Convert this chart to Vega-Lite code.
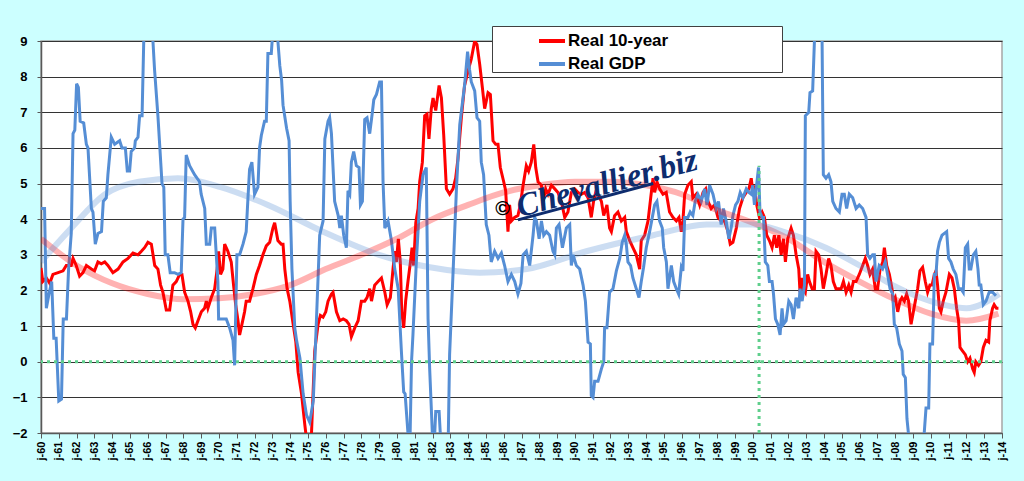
{
  "$schema": "https://vega.github.io/schema/vega-lite/v6.json",
  "width": 961,
  "height": 392,
  "autosize": "none",
  "padding": {"left": 41, "top": 41, "right": 22, "bottom": 48},
  "background": "#CCFFFF",
  "view": {"fill": "#ffffff", "stroke": "#A6A6A6", "strokeWidth": 1.5},
  "config": {
    "axis": {
      "labelFont": "Liberation Sans",
      "labelFontWeight": "bold",
      "labelColor": "#000000",
      "labelOverlap": false,
      "domainColor": "#595959",
      "domainWidth": 1.5,
      "tickColor": "#595959",
      "tickSize": 5
    },
    "axisX": {"tickCount": 54, "labelAngle": -90, "labelFontSize": 11, "labelPadding": 3, "grid": false},
    "axisY": {"tickCount": 11, "labelFontSize": 13, "labelPadding": 10, "tickSize": 4, "grid": true, "gridColor": "#333333", "gridWidth": 1, "gridOpacity": 1}
  },
  "datasets": {
    "main": [
      {"series":"Real 10-year","year":1960.0,"value":2.63},{"series":"Real 10-year","year":1960.1,"value":2.25},{"series":"Real 10-year","year":1960.3,"value":2.35},{"series":"Real 10-year","year":1960.49,"value":2.2},{"series":"Real 10-year","year":1960.67,"value":2.45},{"series":"Real 10-year","year":1960.96,"value":2.5},{"series":"Real 10-year","year":1961.24,"value":2.55},{"series":"Real 10-year","year":1961.42,"value":2.7},{"series":"Real 10-year","year":1961.7,"value":2.7},{"series":"Real 10-year","year":1961.8,"value":2.9},{"series":"Real 10-year","year":1961.98,"value":2.7},{"series":"Real 10-year","year":1962.17,"value":2.4},{"series":"Real 10-year","year":1962.36,"value":2.5},{"series":"Real 10-year","year":1962.55,"value":2.7},{"series":"Real 10-year","year":1962.83,"value":2.6},{"series":"Real 10-year","year":1963.01,"value":2.55},{"series":"Real 10-year","year":1963.2,"value":2.8},{"series":"Real 10-year","year":1963.39,"value":2.75},{"series":"Real 10-year","year":1963.58,"value":2.8},{"series":"Real 10-year","year":1963.76,"value":2.7},{"series":"Real 10-year","year":1964.04,"value":2.5},{"series":"Real 10-year","year":1964.33,"value":2.6},{"series":"Real 10-year","year":1964.61,"value":2.8},{"series":"Real 10-year","year":1964.89,"value":2.9},{"series":"Real 10-year","year":1965.17,"value":3.05},{"series":"Real 10-year","year":1965.45,"value":3.0},{"series":"Real 10-year","year":1965.64,"value":3.1},{"series":"Real 10-year","year":1965.82,"value":3.2},{"series":"Real 10-year","year":1966.01,"value":3.35},{"series":"Real 10-year","year":1966.2,"value":3.3},{"series":"Real 10-year","year":1966.39,"value":2.7},{"series":"Real 10-year","year":1966.57,"value":2.6},{"series":"Real 10-year","year":1966.72,"value":2.15},{"series":"Real 10-year","year":1966.85,"value":1.95},{"series":"Real 10-year","year":1967.04,"value":1.45},{"series":"Real 10-year","year":1967.23,"value":1.45},{"series":"Real 10-year","year":1967.41,"value":2.15},{"series":"Real 10-year","year":1967.6,"value":2.25},{"series":"Real 10-year","year":1967.79,"value":2.45},{"series":"Real 10-year","year":1967.92,"value":2.45},{"series":"Real 10-year","year":1968.07,"value":1.95},{"series":"Real 10-year","year":1968.26,"value":1.7},{"series":"Real 10-year","year":1968.41,"value":1.4},{"series":"Real 10-year","year":1968.54,"value":1.05},{"series":"Real 10-year","year":1968.67,"value":0.95},{"series":"Real 10-year","year":1968.82,"value":1.15},{"series":"Real 10-year","year":1969.01,"value":1.4},{"series":"Real 10-year","year":1969.19,"value":1.5},{"series":"Real 10-year","year":1969.29,"value":1.7},{"series":"Real 10-year","year":1969.38,"value":1.5},{"series":"Real 10-year","year":1969.57,"value":1.8},{"series":"Real 10-year","year":1969.76,"value":2.05},{"series":"Real 10-year","year":1969.91,"value":2.65},{"series":"Real 10-year","year":1969.98,"value":3.1},{"series":"Real 10-year","year":1970.09,"value":2.45},{"series":"Real 10-year","year":1970.22,"value":2.6},{"series":"Real 10-year","year":1970.32,"value":3.3},{"series":"Real 10-year","year":1970.5,"value":3.1},{"series":"Real 10-year","year":1970.69,"value":2.8},{"series":"Real 10-year","year":1970.82,"value":2.15},{"series":"Real 10-year","year":1970.94,"value":1.6},{"series":"Real 10-year","year":1971.07,"value":1.15},{"series":"Real 10-year","year":1971.16,"value":0.75},{"series":"Real 10-year","year":1971.29,"value":1.05},{"series":"Real 10-year","year":1971.44,"value":1.4},{"series":"Real 10-year","year":1971.53,"value":1.7},{"series":"Real 10-year","year":1971.72,"value":1.7},{"series":"Real 10-year","year":1971.91,"value":2.05},{"series":"Real 10-year","year":1972.1,"value":2.45},{"series":"Real 10-year","year":1972.28,"value":2.7},{"series":"Real 10-year","year":1972.47,"value":3.0},{"series":"Real 10-year","year":1972.66,"value":3.25},{"series":"Real 10-year","year":1972.85,"value":3.35},{"series":"Real 10-year","year":1972.94,"value":3.55},{"series":"Real 10-year","year":1973.03,"value":3.75},{"series":"Real 10-year","year":1973.13,"value":3.9},{"series":"Real 10-year","year":1973.31,"value":3.4},{"series":"Real 10-year","year":1973.5,"value":3.3},{"series":"Real 10-year","year":1973.6,"value":3.3},{"series":"Real 10-year","year":1973.7,"value":2.6},{"series":"Real 10-year","year":1973.83,"value":2.05},{"series":"Real 10-year","year":1973.98,"value":1.7},{"series":"Real 10-year","year":1974.17,"value":1.05},{"series":"Real 10-year","year":1974.32,"value":0.55},{"series":"Real 10-year","year":1974.45,"value":-0.3},{"series":"Real 10-year","year":1974.64,"value":-0.9},{"series":"Real 10-year","year":1974.82,"value":-1.75},{"series":"Real 10-year","year":1974.95,"value":-2.3},{"series":"Real 10-year","year":1975.1,"value":-2.3},{"series":"Real 10-year","year":1975.2,"value":-2.0},{"series":"Real 10-year","year":1975.38,"value":0.3},{"series":"Real 10-year","year":1975.57,"value":1.05},{"series":"Real 10-year","year":1975.7,"value":1.3},{"series":"Real 10-year","year":1975.85,"value":1.25},{"series":"Real 10-year","year":1976.0,"value":1.4},{"series":"Real 10-year","year":1976.13,"value":1.7},{"series":"Real 10-year","year":1976.32,"value":1.9},{"series":"Real 10-year","year":1976.41,"value":1.95},{"series":"Real 10-year","year":1976.6,"value":1.4},{"series":"Real 10-year","year":1976.79,"value":1.15},{"series":"Real 10-year","year":1976.98,"value":1.2},{"series":"Real 10-year","year":1977.16,"value":1.15},{"series":"Real 10-year","year":1977.31,"value":1.05},{"series":"Real 10-year","year":1977.44,"value":0.7},{"series":"Real 10-year","year":1977.63,"value":0.95},{"series":"Real 10-year","year":1977.82,"value":1.15},{"series":"Real 10-year","year":1978.0,"value":1.7},{"series":"Real 10-year","year":1978.19,"value":1.7},{"series":"Real 10-year","year":1978.32,"value":1.8},{"series":"Real 10-year","year":1978.47,"value":2.05},{"series":"Real 10-year","year":1978.57,"value":1.7},{"series":"Real 10-year","year":1978.75,"value":2.15},{"series":"Real 10-year","year":1978.94,"value":2.25},{"series":"Real 10-year","year":1979.13,"value":2.35},{"series":"Real 10-year","year":1979.32,"value":1.95},{"series":"Real 10-year","year":1979.45,"value":1.6},{"series":"Real 10-year","year":1979.63,"value":1.8},{"series":"Real 10-year","year":1979.78,"value":2.6},{"series":"Real 10-year","year":1979.88,"value":3.1},{"series":"Real 10-year","year":1979.97,"value":2.8},{"series":"Real 10-year","year":1980.08,"value":3.45},{"series":"Real 10-year","year":1980.19,"value":2.8},{"series":"Real 10-year","year":1980.27,"value":1.4},{"series":"Real 10-year","year":1980.38,"value":0.95},{"series":"Real 10-year","year":1980.49,"value":1.7},{"series":"Real 10-year","year":1980.62,"value":2.25},{"series":"Real 10-year","year":1980.76,"value":2.8},{"series":"Real 10-year","year":1980.85,"value":3.2},{"series":"Real 10-year","year":1980.94,"value":2.7},{"series":"Real 10-year","year":1981.06,"value":3.9},{"series":"Real 10-year","year":1981.19,"value":4.3},{"series":"Real 10-year","year":1981.28,"value":5.05},{"series":"Real 10-year","year":1981.43,"value":5.6},{"series":"Real 10-year","year":1981.56,"value":6.9},{"series":"Real 10-year","year":1981.69,"value":6.95},{"series":"Real 10-year","year":1981.8,"value":6.25},{"series":"Real 10-year","year":1981.93,"value":7.1},{"series":"Real 10-year","year":1982.03,"value":7.4},{"series":"Real 10-year","year":1982.18,"value":7.05},{"series":"Real 10-year","year":1982.37,"value":7.75},{"series":"Real 10-year","year":1982.5,"value":7.4},{"series":"Real 10-year","year":1982.63,"value":6.35},{"series":"Real 10-year","year":1982.78,"value":4.85},{"series":"Real 10-year","year":1982.96,"value":4.7},{"series":"Real 10-year","year":1983.15,"value":4.85},{"series":"Real 10-year","year":1983.3,"value":5.15},{"series":"Real 10-year","year":1983.43,"value":5.7},{"series":"Real 10-year","year":1983.62,"value":6.85},{"series":"Real 10-year","year":1983.8,"value":7.75},{"series":"Real 10-year","year":1983.99,"value":8.15},{"series":"Real 10-year","year":1984.18,"value":8.5},{"series":"Real 10-year","year":1984.37,"value":9.0},{"series":"Real 10-year","year":1984.5,"value":8.9},{"series":"Real 10-year","year":1984.65,"value":8.35},{"series":"Real 10-year","year":1984.8,"value":7.7},{"series":"Real 10-year","year":1984.93,"value":7.1},{"series":"Real 10-year","year":1985.12,"value":7.55},{"series":"Real 10-year","year":1985.25,"value":7.5},{"series":"Real 10-year","year":1985.4,"value":6.2},{"series":"Real 10-year","year":1985.55,"value":6.1},{"series":"Real 10-year","year":1985.68,"value":6.1},{"series":"Real 10-year","year":1985.81,"value":5.45},{"series":"Real 10-year","year":1986.0,"value":5.05},{"series":"Real 10-year","year":1986.11,"value":4.8},{"series":"Real 10-year","year":1986.24,"value":3.65},{"series":"Real 10-year","year":1986.33,"value":4.4},{"series":"Real 10-year","year":1986.43,"value":3.95},{"series":"Real 10-year","year":1986.61,"value":4.05},{"series":"Real 10-year","year":1986.8,"value":4.1},{"series":"Real 10-year","year":1986.93,"value":4.4},{"series":"Real 10-year","year":1987.09,"value":4.95},{"series":"Real 10-year","year":1987.27,"value":5.5},{"series":"Real 10-year","year":1987.4,"value":5.35},{"series":"Real 10-year","year":1987.55,"value":5.6},{"series":"Real 10-year","year":1987.69,"value":6.1},{"series":"Real 10-year","year":1987.8,"value":5.45},{"series":"Real 10-year","year":1987.93,"value":5.05},{"series":"Real 10-year","year":1988.12,"value":4.95},{"series":"Real 10-year","year":1988.21,"value":4.5},{"series":"Real 10-year","year":1988.36,"value":4.85},{"series":"Real 10-year","year":1988.49,"value":4.7},{"series":"Real 10-year","year":1988.68,"value":4.95},{"series":"Real 10-year","year":1988.87,"value":4.85},{"series":"Real 10-year","year":1989.05,"value":4.75},{"series":"Real 10-year","year":1989.24,"value":4.5},{"series":"Real 10-year","year":1989.43,"value":4.05},{"series":"Real 10-year","year":1989.61,"value":4.2},{"series":"Real 10-year","year":1989.8,"value":4.75},{"series":"Real 10-year","year":1989.99,"value":4.85},{"series":"Real 10-year","year":1990.18,"value":4.75},{"series":"Real 10-year","year":1990.36,"value":4.7},{"series":"Real 10-year","year":1990.55,"value":4.75},{"series":"Real 10-year","year":1990.74,"value":4.6},{"series":"Real 10-year","year":1990.92,"value":4.05},{"series":"Real 10-year","year":1991.05,"value":4.5},{"series":"Real 10-year","year":1991.17,"value":4.75},{"series":"Real 10-year","year":1991.3,"value":4.7},{"series":"Real 10-year","year":1991.49,"value":4.5},{"series":"Real 10-year","year":1991.62,"value":4.1},{"series":"Real 10-year","year":1991.8,"value":4.4},{"series":"Real 10-year","year":1991.95,"value":3.75},{"series":"Real 10-year","year":1992.05,"value":3.65},{"series":"Real 10-year","year":1992.23,"value":4.1},{"series":"Real 10-year","year":1992.42,"value":4.2},{"series":"Real 10-year","year":1992.61,"value":3.95},{"series":"Real 10-year","year":1992.8,"value":4.05},{"series":"Real 10-year","year":1992.89,"value":3.65},{"series":"Real 10-year","year":1993.08,"value":3.4},{"series":"Real 10-year","year":1993.26,"value":3.2},{"series":"Real 10-year","year":1993.45,"value":3.0},{"series":"Real 10-year","year":1993.64,"value":2.6},{"series":"Real 10-year","year":1993.73,"value":3.4},{"series":"Real 10-year","year":1993.92,"value":3.55},{"series":"Real 10-year","year":1994.11,"value":3.95},{"series":"Real 10-year","year":1994.26,"value":4.6},{"series":"Real 10-year","year":1994.39,"value":5.15},{"series":"Real 10-year","year":1994.48,"value":4.75},{"series":"Real 10-year","year":1994.61,"value":5.05},{"series":"Real 10-year","year":1994.76,"value":4.85},{"series":"Real 10-year","year":1994.95,"value":4.7},{"series":"Real 10-year","year":1995.13,"value":4.75},{"series":"Real 10-year","year":1995.32,"value":4.2},{"series":"Real 10-year","year":1995.51,"value":4.05},{"series":"Real 10-year","year":1995.7,"value":3.95},{"series":"Real 10-year","year":1995.85,"value":4.05},{"series":"Real 10-year","year":1995.98,"value":3.65},{"series":"Real 10-year","year":1996.07,"value":3.95},{"series":"Real 10-year","year":1996.17,"value":4.7},{"series":"Real 10-year","year":1996.35,"value":4.95},{"series":"Real 10-year","year":1996.54,"value":5.05},{"series":"Real 10-year","year":1996.63,"value":4.6},{"series":"Real 10-year","year":1996.82,"value":4.7},{"series":"Real 10-year","year":1997.01,"value":4.4},{"series":"Real 10-year","year":1997.2,"value":4.75},{"series":"Real 10-year","year":1997.35,"value":4.85},{"series":"Real 10-year","year":1997.48,"value":4.5},{"series":"Real 10-year","year":1997.66,"value":4.3},{"series":"Real 10-year","year":1997.85,"value":4.4},{"series":"Real 10-year","year":1998.04,"value":4.05},{"series":"Real 10-year","year":1998.22,"value":3.95},{"series":"Real 10-year","year":1998.41,"value":3.95},{"series":"Real 10-year","year":1998.6,"value":3.65},{"series":"Real 10-year","year":1998.73,"value":3.3},{"series":"Real 10-year","year":1998.88,"value":3.35},{"series":"Real 10-year","year":1999.07,"value":3.75},{"series":"Real 10-year","year":1999.25,"value":4.3},{"series":"Real 10-year","year":1999.44,"value":4.6},{"series":"Real 10-year","year":1999.63,"value":4.75},{"series":"Real 10-year","year":1999.78,"value":4.85},{"series":"Real 10-year","year":1999.91,"value":5.15},{"series":"Real 10-year","year":2000.0,"value":4.75},{"series":"Real 10-year","year":2000.09,"value":4.95},{"series":"Real 10-year","year":2000.22,"value":4.4},{"series":"Real 10-year","year":2000.37,"value":4.05},{"series":"Real 10-year","year":2000.52,"value":4.2},{"series":"Real 10-year","year":2000.65,"value":4.05},{"series":"Real 10-year","year":2000.78,"value":3.55},{"series":"Real 10-year","year":2000.93,"value":3.4},{"series":"Real 10-year","year":2001.08,"value":3.2},{"series":"Real 10-year","year":2001.21,"value":3.55},{"series":"Real 10-year","year":2001.34,"value":3.2},{"series":"Real 10-year","year":2001.46,"value":3.55},{"series":"Real 10-year","year":2001.59,"value":3.0},{"series":"Real 10-year","year":2001.72,"value":3.45},{"series":"Real 10-year","year":2001.83,"value":2.8},{"series":"Real 10-year","year":2001.96,"value":3.45},{"series":"Real 10-year","year":2002.15,"value":3.75},{"series":"Real 10-year","year":2002.28,"value":3.55},{"series":"Real 10-year","year":2002.43,"value":3.0},{"series":"Real 10-year","year":2002.58,"value":2.6},{"series":"Real 10-year","year":2002.65,"value":1.95},{"series":"Real 10-year","year":2002.77,"value":2.35},{"series":"Real 10-year","year":2002.84,"value":2.05},{"series":"Real 10-year","year":2002.95,"value":1.95},{"series":"Real 10-year","year":2003.08,"value":2.45},{"series":"Real 10-year","year":2003.18,"value":2.25},{"series":"Real 10-year","year":2003.33,"value":2.05},{"series":"Real 10-year","year":2003.46,"value":2.05},{"series":"Real 10-year","year":2003.55,"value":3.1},{"series":"Real 10-year","year":2003.7,"value":3.0},{"series":"Real 10-year","year":2003.83,"value":2.6},{"series":"Real 10-year","year":2003.96,"value":2.05},{"series":"Real 10-year","year":2004.11,"value":2.45},{"series":"Real 10-year","year":2004.26,"value":2.9},{"series":"Real 10-year","year":2004.39,"value":2.7},{"series":"Real 10-year","year":2004.52,"value":2.25},{"series":"Real 10-year","year":2004.67,"value":2.05},{"series":"Real 10-year","year":2004.82,"value":2.05},{"series":"Real 10-year","year":2004.96,"value":2.05},{"series":"Real 10-year","year":2005.09,"value":2.25},{"series":"Real 10-year","year":2005.24,"value":1.95},{"series":"Real 10-year","year":2005.39,"value":2.15},{"series":"Real 10-year","year":2005.52,"value":1.95},{"series":"Real 10-year","year":2005.65,"value":2.25},{"series":"Real 10-year","year":2005.8,"value":2.25},{"series":"Real 10-year","year":2005.98,"value":2.45},{"series":"Real 10-year","year":2006.17,"value":2.7},{"series":"Real 10-year","year":2006.32,"value":2.9},{"series":"Real 10-year","year":2006.45,"value":2.7},{"series":"Real 10-year","year":2006.58,"value":2.45},{"series":"Real 10-year","year":2006.73,"value":2.6},{"series":"Real 10-year","year":2006.88,"value":2.05},{"series":"Real 10-year","year":2007.01,"value":2.05},{"series":"Real 10-year","year":2007.15,"value":2.6},{"series":"Real 10-year","year":2007.3,"value":2.8},{"series":"Real 10-year","year":2007.39,"value":3.2},{"series":"Real 10-year","year":2007.52,"value":2.7},{"series":"Real 10-year","year":2007.67,"value":2.45},{"series":"Real 10-year","year":2007.82,"value":2.05},{"series":"Real 10-year","year":2007.89,"value":1.7},{"series":"Real 10-year","year":2008.0,"value":1.8},{"series":"Real 10-year","year":2008.14,"value":1.4},{"series":"Real 10-year","year":2008.27,"value":1.7},{"series":"Real 10-year","year":2008.38,"value":1.8},{"series":"Real 10-year","year":2008.51,"value":1.7},{"series":"Real 10-year","year":2008.64,"value":1.9},{"series":"Real 10-year","year":2008.75,"value":1.7},{"series":"Real 10-year","year":2008.89,"value":1.05},{"series":"Real 10-year","year":2009.02,"value":1.4},{"series":"Real 10-year","year":2009.13,"value":1.7},{"series":"Real 10-year","year":2009.26,"value":2.05},{"series":"Real 10-year","year":2009.39,"value":2.55},{"series":"Real 10-year","year":2009.54,"value":2.65},{"series":"Real 10-year","year":2009.69,"value":2.25},{"series":"Real 10-year","year":2009.82,"value":1.95},{"series":"Real 10-year","year":2009.95,"value":2.15},{"series":"Real 10-year","year":2010.07,"value":2.15},{"series":"Real 10-year","year":2010.2,"value":2.45},{"series":"Real 10-year","year":2010.29,"value":2.55},{"series":"Real 10-year","year":2010.38,"value":2.15},{"series":"Real 10-year","year":2010.48,"value":1.5},{"series":"Real 10-year","year":2010.57,"value":1.4},{"series":"Real 10-year","year":2010.7,"value":1.7},{"series":"Real 10-year","year":2010.85,"value":1.95},{"series":"Real 10-year","year":2011.04,"value":2.45},{"series":"Real 10-year","year":2011.19,"value":2.35},{"series":"Real 10-year","year":2011.32,"value":2.05},{"series":"Real 10-year","year":2011.45,"value":1.5},{"series":"Real 10-year","year":2011.56,"value":1.15},{"series":"Real 10-year","year":2011.64,"value":0.4},{"series":"Real 10-year","year":2011.79,"value":0.3},{"series":"Real 10-year","year":2011.94,"value":0.2},{"series":"Real 10-year","year":2012.07,"value":0.0},{"series":"Real 10-year","year":2012.2,"value":0.1},{"series":"Real 10-year","year":2012.35,"value":-0.2},{"series":"Real 10-year","year":2012.44,"value":-0.3},{"series":"Real 10-year","year":2012.53,"value":0.0},{"series":"Real 10-year","year":2012.68,"value":-0.1},{"series":"Real 10-year","year":2012.81,"value":0.0},{"series":"Real 10-year","year":2012.95,"value":0.4},{"series":"Real 10-year","year":2013.1,"value":0.6},{"series":"Real 10-year","year":2013.25,"value":0.55},{"series":"Real 10-year","year":2013.32,"value":1.15},{"series":"Real 10-year","year":2013.47,"value":1.5},{"series":"Real 10-year","year":2013.56,"value":1.6},{"series":"Real 10-year","year":2013.69,"value":1.5},{"series":"Real 10-year","year":2013.8,"value":1.5},
      {"series":"Real GDP","year":1960.0,"value":4.3},{"series":"Real GDP","year":1960.2,"value":4.3},{"series":"Real GDP","year":1960.3,"value":1.5},{"series":"Real GDP","year":1960.45,"value":1.9},{"series":"Real GDP","year":1960.6,"value":2.25},{"series":"Real GDP","year":1960.72,"value":0.66},{"series":"Real GDP","year":1960.85,"value":0.66},{"series":"Real GDP","year":1961.0,"value":-1.1},{"series":"Real GDP","year":1961.15,"value":-1.05},{"series":"Real GDP","year":1961.25,"value":1.2},{"series":"Real GDP","year":1961.43,"value":1.2},{"series":"Real GDP","year":1961.55,"value":2.6},{"series":"Real GDP","year":1961.7,"value":3.6},{"series":"Real GDP","year":1961.8,"value":6.4},{"series":"Real GDP","year":1961.9,"value":6.5},{"series":"Real GDP","year":1962.0,"value":7.8},{"series":"Real GDP","year":1962.1,"value":7.7},{"series":"Real GDP","year":1962.2,"value":6.75},{"series":"Real GDP","year":1962.4,"value":6.7},{"series":"Real GDP","year":1962.55,"value":6.1},{"series":"Real GDP","year":1962.64,"value":6.0},{"series":"Real GDP","year":1962.83,"value":4.3},{"series":"Real GDP","year":1962.92,"value":4.2},{"series":"Real GDP","year":1963.05,"value":3.3},{"series":"Real GDP","year":1963.2,"value":3.6},{"series":"Real GDP","year":1963.4,"value":3.65},{"series":"Real GDP","year":1963.5,"value":4.5},{"series":"Real GDP","year":1963.67,"value":4.6},{"series":"Real GDP","year":1963.76,"value":5.25},{"series":"Real GDP","year":1963.95,"value":6.3},{"series":"Real GDP","year":1964.14,"value":6.1},{"series":"Real GDP","year":1964.42,"value":6.2},{"series":"Real GDP","year":1964.55,"value":6.0},{"series":"Real GDP","year":1964.74,"value":6.0},{"series":"Real GDP","year":1964.85,"value":5.35},{"series":"Real GDP","year":1964.98,"value":5.35},{"series":"Real GDP","year":1965.07,"value":5.9},{"series":"Real GDP","year":1965.26,"value":6.0},{"series":"Real GDP","year":1965.3,"value":6.2},{"series":"Real GDP","year":1965.45,"value":6.3},{"series":"Real GDP","year":1965.54,"value":6.9},{"series":"Real GDP","year":1965.68,"value":6.9},{"series":"Real GDP","year":1965.8,"value":9.6},{"series":"Real GDP","year":1966.2,"value":9.6},{"series":"Real GDP","year":1966.29,"value":9.0},{"series":"Real GDP","year":1966.38,"value":8.2},{"series":"Real GDP","year":1966.57,"value":6.9},{"series":"Real GDP","year":1966.8,"value":5.0},{"series":"Real GDP","year":1966.9,"value":4.9},{"series":"Real GDP","year":1966.98,"value":3.0},{"series":"Real GDP","year":1967.13,"value":3.0},{"series":"Real GDP","year":1967.26,"value":2.5},{"series":"Real GDP","year":1967.5,"value":2.5},{"series":"Real GDP","year":1967.7,"value":2.45},{"series":"Real GDP","year":1967.88,"value":2.5},{"series":"Real GDP","year":1967.98,"value":4.0},{"series":"Real GDP","year":1968.07,"value":4.05},{"series":"Real GDP","year":1968.16,"value":5.8},{"series":"Real GDP","year":1968.35,"value":5.5},{"series":"Real GDP","year":1968.63,"value":5.25},{"series":"Real GDP","year":1968.91,"value":5.05},{"series":"Real GDP","year":1969.0,"value":4.7},{"series":"Real GDP","year":1969.2,"value":4.3},{"series":"Real GDP","year":1969.29,"value":3.3},{"series":"Real GDP","year":1969.48,"value":3.3},{"series":"Real GDP","year":1969.57,"value":3.75},{"series":"Real GDP","year":1969.76,"value":3.75},{"series":"Real GDP","year":1969.94,"value":2.25},{"series":"Real GDP","year":1969.98,"value":1.2},{"series":"Real GDP","year":1970.22,"value":1.2},{"series":"Real GDP","year":1970.41,"value":1.2},{"series":"Real GDP","year":1970.6,"value":0.95},{"series":"Real GDP","year":1970.79,"value":0.6},{"series":"Real GDP","year":1970.88,"value":-0.1},{"series":"Real GDP","year":1971.01,"value":3.0},{"series":"Real GDP","year":1971.16,"value":3.0},{"series":"Real GDP","year":1971.35,"value":3.3},{"series":"Real GDP","year":1971.53,"value":3.65},{"series":"Real GDP","year":1971.63,"value":4.6},{"series":"Real GDP","year":1971.72,"value":5.4},{"series":"Real GDP","year":1971.85,"value":5.6},{"series":"Real GDP","year":1972.0,"value":4.7},{"series":"Real GDP","year":1972.19,"value":4.9},{"series":"Real GDP","year":1972.28,"value":6.0},{"series":"Real GDP","year":1972.38,"value":6.35},{"series":"Real GDP","year":1972.56,"value":6.75},{"series":"Real GDP","year":1972.66,"value":6.75},{"series":"Real GDP","year":1972.75,"value":8.65},{"series":"Real GDP","year":1972.94,"value":8.65},{"series":"Real GDP","year":1973.03,"value":9.3},{"series":"Real GDP","year":1973.15,"value":9.6},{"series":"Real GDP","year":1973.31,"value":9.0},{"series":"Real GDP","year":1973.42,"value":8.3},{"series":"Real GDP","year":1973.52,"value":7.9},{"series":"Real GDP","year":1973.6,"value":7.2},{"series":"Real GDP","year":1973.8,"value":6.55},{"series":"Real GDP","year":1973.94,"value":6.2},{"series":"Real GDP","year":1974.0,"value":4.5},{"series":"Real GDP","year":1974.1,"value":2.6},{"series":"Real GDP","year":1974.26,"value":0.95},{"series":"Real GDP","year":1974.36,"value":0.6},{"series":"Real GDP","year":1974.55,"value":0.1},{"series":"Real GDP","year":1974.73,"value":-0.9},{"series":"Real GDP","year":1974.92,"value":-1.5},{"series":"Real GDP","year":1975.1,"value":-1.7},{"series":"Real GDP","year":1975.3,"value":-1.1},{"series":"Real GDP","year":1975.48,"value":1.2},{"series":"Real GDP","year":1975.66,"value":3.55},{"series":"Real GDP","year":1975.85,"value":3.95},{"series":"Real GDP","year":1975.95,"value":6.25},{"series":"Real GDP","year":1976.13,"value":6.75},{"series":"Real GDP","year":1976.22,"value":6.85},{"series":"Real GDP","year":1976.32,"value":6.4},{"series":"Real GDP","year":1976.5,"value":4.5},{"series":"Real GDP","year":1976.7,"value":4.1},{"series":"Real GDP","year":1976.79,"value":3.75},{"series":"Real GDP","year":1976.88,"value":4.1},{"series":"Real GDP","year":1977.01,"value":3.55},{"series":"Real GDP","year":1977.16,"value":3.2},{"series":"Real GDP","year":1977.25,"value":4.8},{"series":"Real GDP","year":1977.35,"value":4.7},{"series":"Real GDP","year":1977.44,"value":5.6},{"series":"Real GDP","year":1977.57,"value":5.9},{"series":"Real GDP","year":1977.72,"value":5.5},{"series":"Real GDP","year":1977.87,"value":5.45},{"series":"Real GDP","year":1977.95,"value":4.4},{"series":"Real GDP","year":1978.06,"value":4.5},{"series":"Real GDP","year":1978.19,"value":6.8},{"series":"Real GDP","year":1978.32,"value":6.85},{"series":"Real GDP","year":1978.47,"value":6.4},{"series":"Real GDP","year":1978.62,"value":7.0},{"series":"Real GDP","year":1978.7,"value":7.35},{"series":"Real GDP","year":1978.85,"value":7.5},{"series":"Real GDP","year":1979.03,"value":7.85},{"series":"Real GDP","year":1979.13,"value":7.85},{"series":"Real GDP","year":1979.22,"value":5.05},{"series":"Real GDP","year":1979.32,"value":3.75},{"series":"Real GDP","year":1979.5,"value":3.95},{"series":"Real GDP","year":1979.69,"value":3.4},{"series":"Real GDP","year":1979.88,"value":2.6},{"series":"Real GDP","year":1980.07,"value":2.05},{"series":"Real GDP","year":1980.25,"value":0.3},{"series":"Real GDP","year":1980.38,"value":-0.85},{"series":"Real GDP","year":1980.46,"value":-0.9},{"series":"Real GDP","year":1980.62,"value":-2.0},{"series":"Real GDP","year":1980.72,"value":-2.6},{"series":"Real GDP","year":1980.82,"value":0.0},{"series":"Real GDP","year":1980.9,"value":0.75},{"series":"Real GDP","year":1981.09,"value":2.8},{"series":"Real GDP","year":1981.28,"value":4.5},{"series":"Real GDP","year":1981.47,"value":5.25},{"series":"Real GDP","year":1981.65,"value":5.45},{"series":"Real GDP","year":1981.75,"value":1.2},{"series":"Real GDP","year":1981.84,"value":-0.2},{"series":"Real GDP","year":1981.99,"value":-2.0},{"series":"Real GDP","year":1982.07,"value":-2.6},{"series":"Real GDP","year":1982.18,"value":-1.4},{"series":"Real GDP","year":1982.37,"value":-1.4},{"series":"Real GDP","year":1982.5,"value":-2.6},{"series":"Real GDP","year":1982.87,"value":-2.6},{"series":"Real GDP","year":1982.96,"value":0.2},{"series":"Real GDP","year":1983.15,"value":2.45},{"series":"Real GDP","year":1983.34,"value":4.8},{"series":"Real GDP","year":1983.53,"value":6.65},{"series":"Real GDP","year":1983.8,"value":7.75},{"series":"Real GDP","year":1983.97,"value":8.7},{"series":"Real GDP","year":1984.08,"value":8.2},{"series":"Real GDP","year":1984.18,"value":7.85},{"series":"Real GDP","year":1984.37,"value":7.6},{"series":"Real GDP","year":1984.5,"value":6.85},{"series":"Real GDP","year":1984.65,"value":6.75},{"series":"Real GDP","year":1984.74,"value":5.6},{"series":"Real GDP","year":1984.87,"value":5.25},{"series":"Real GDP","year":1985.02,"value":3.85},{"series":"Real GDP","year":1985.17,"value":3.55},{"series":"Real GDP","year":1985.3,"value":2.8},{"series":"Real GDP","year":1985.49,"value":3.1},{"series":"Real GDP","year":1985.68,"value":2.9},{"series":"Real GDP","year":1985.87,"value":3.05},{"series":"Real GDP","year":1986.05,"value":2.7},{"series":"Real GDP","year":1986.24,"value":2.25},{"series":"Real GDP","year":1986.43,"value":2.45},{"series":"Real GDP","year":1986.62,"value":2.25},{"series":"Real GDP","year":1986.8,"value":1.9},{"series":"Real GDP","year":1986.97,"value":2.2},{"series":"Real GDP","year":1987.09,"value":3.0},{"series":"Real GDP","year":1987.27,"value":3.1},{"series":"Real GDP","year":1987.46,"value":2.7},{"series":"Real GDP","year":1987.65,"value":3.55},{"series":"Real GDP","year":1987.74,"value":4.05},{"series":"Real GDP","year":1987.84,"value":3.95},{"series":"Real GDP","year":1987.99,"value":3.45},{"series":"Real GDP","year":1988.12,"value":3.95},{"series":"Real GDP","year":1988.25,"value":3.55},{"series":"Real GDP","year":1988.4,"value":3.65},{"series":"Real GDP","year":1988.58,"value":3.55},{"series":"Real GDP","year":1988.77,"value":3.1},{"series":"Real GDP","year":1988.87,"value":3.0},{"series":"Real GDP","year":1988.96,"value":3.75},{"series":"Real GDP","year":1989.11,"value":3.85},{"series":"Real GDP","year":1989.3,"value":3.2},{"series":"Real GDP","year":1989.52,"value":3.75},{"series":"Real GDP","year":1989.71,"value":3.85},{"series":"Real GDP","year":1989.8,"value":2.7},{"series":"Real GDP","year":1989.9,"value":3.0},{"series":"Real GDP","year":1990.08,"value":2.7},{"series":"Real GDP","year":1990.27,"value":2.6},{"series":"Real GDP","year":1990.46,"value":2.15},{"series":"Real GDP","year":1990.59,"value":1.7},{"series":"Real GDP","year":1990.74,"value":0.55},{"series":"Real GDP","year":1990.87,"value":0.5},{"series":"Real GDP","year":1990.92,"value":-0.95},{"series":"Real GDP","year":1991.02,"value":-1.0},{"series":"Real GDP","year":1991.11,"value":-0.55},{"series":"Real GDP","year":1991.3,"value":-0.55},{"series":"Real GDP","year":1991.49,"value":-0.2},{"series":"Real GDP","year":1991.62,"value":0.0},{"series":"Real GDP","year":1991.67,"value":0.95},{"series":"Real GDP","year":1991.8,"value":0.95},{"series":"Real GDP","year":1991.95,"value":1.95},{"series":"Real GDP","year":1992.14,"value":2.05},{"series":"Real GDP","year":1992.33,"value":2.55},{"series":"Real GDP","year":1992.52,"value":2.9},{"series":"Real GDP","year":1992.66,"value":3.35},{"series":"Real GDP","year":1992.8,"value":3.55},{"series":"Real GDP","year":1992.89,"value":3.3},{"series":"Real GDP","year":1992.98,"value":2.8},{"series":"Real GDP","year":1993.13,"value":2.7},{"series":"Real GDP","year":1993.26,"value":2.35},{"series":"Real GDP","year":1993.45,"value":2.05},{"series":"Real GDP","year":1993.6,"value":1.8},{"series":"Real GDP","year":1993.73,"value":2.25},{"series":"Real GDP","year":1993.86,"value":2.65},{"series":"Real GDP","year":1994.01,"value":3.2},{"series":"Real GDP","year":1994.2,"value":3.65},{"series":"Real GDP","year":1994.35,"value":4.05},{"series":"Real GDP","year":1994.48,"value":4.4},{"series":"Real GDP","year":1994.61,"value":4.5},{"series":"Real GDP","year":1994.76,"value":3.95},{"series":"Real GDP","year":1994.91,"value":3.75},{"series":"Real GDP","year":1994.99,"value":3.2},{"series":"Real GDP","year":1995.14,"value":2.8},{"series":"Real GDP","year":1995.23,"value":2.05},{"series":"Real GDP","year":1995.42,"value":2.7},{"series":"Real GDP","year":1995.55,"value":2.25},{"series":"Real GDP","year":1995.7,"value":2.05},{"series":"Real GDP","year":1995.83,"value":1.9},{"series":"Real GDP","year":1995.98,"value":2.65},{"series":"Real GDP","year":1996.07,"value":2.55},{"series":"Real GDP","year":1996.17,"value":4.05},{"series":"Real GDP","year":1996.35,"value":4.05},{"series":"Real GDP","year":1996.48,"value":4.2},{"series":"Real GDP","year":1996.63,"value":4.1},{"series":"Real GDP","year":1996.76,"value":4.5},{"series":"Real GDP","year":1996.91,"value":4.7},{"series":"Real GDP","year":1997.1,"value":4.5},{"series":"Real GDP","year":1997.29,"value":4.85},{"series":"Real GDP","year":1997.42,"value":4.4},{"series":"Real GDP","year":1997.57,"value":4.95},{"series":"Real GDP","year":1997.76,"value":4.7},{"series":"Real GDP","year":1997.94,"value":4.3},{"series":"Real GDP","year":1998.07,"value":4.5},{"series":"Real GDP","year":1998.22,"value":3.85},{"series":"Real GDP","year":1998.35,"value":4.3},{"series":"Real GDP","year":1998.5,"value":3.95},{"series":"Real GDP","year":1998.65,"value":3.45},{"series":"Real GDP","year":1998.78,"value":3.75},{"series":"Real GDP","year":1998.88,"value":4.1},{"series":"Real GDP","year":1999.03,"value":4.4},{"series":"Real GDP","year":1999.16,"value":4.5},{"series":"Real GDP","year":1999.29,"value":4.75},{"series":"Real GDP","year":1999.44,"value":4.6},{"series":"Real GDP","year":1999.63,"value":4.85},{"series":"Real GDP","year":1999.78,"value":4.75},{"series":"Real GDP","year":1999.91,"value":4.7},{"series":"Real GDP","year":1999.99,"value":4.95},{"series":"Real GDP","year":2000.09,"value":4.4},{"series":"Real GDP","year":2000.22,"value":5.0},{"series":"Real GDP","year":2000.32,"value":5.45},{"series":"Real GDP","year":2000.4,"value":4.2},{"series":"Real GDP","year":2000.52,"value":4.05},{"series":"Real GDP","year":2000.6,"value":4.05},{"series":"Real GDP","year":2000.7,"value":2.8},{"series":"Real GDP","year":2000.84,"value":2.7},{"series":"Real GDP","year":2000.93,"value":2.25},{"series":"Real GDP","year":2001.08,"value":2.25},{"series":"Real GDP","year":2001.16,"value":1.9},{"series":"Real GDP","year":2001.27,"value":1.2},{"series":"Real GDP","year":2001.4,"value":1.05},{"series":"Real GDP","year":2001.53,"value":0.75},{"series":"Real GDP","year":2001.64,"value":1.5},{"series":"Real GDP","year":2001.72,"value":1.05},{"series":"Real GDP","year":2001.87,"value":1.15},{"series":"Real GDP","year":2002.02,"value":1.7},{"series":"Real GDP","year":2002.15,"value":1.6},{"series":"Real GDP","year":2002.28,"value":1.2},{"series":"Real GDP","year":2002.43,"value":1.8},{"series":"Real GDP","year":2002.58,"value":1.5},{"series":"Real GDP","year":2002.65,"value":2.05},{"series":"Real GDP","year":2002.77,"value":1.7},{"series":"Real GDP","year":2002.9,"value":2.15},{"series":"Real GDP","year":2002.95,"value":6.9},{"series":"Real GDP","year":2003.14,"value":7.0},{"series":"Real GDP","year":2003.21,"value":7.55},{"series":"Real GDP","year":2003.36,"value":7.6},{"series":"Real GDP","year":2003.46,"value":9.0},{"series":"Real GDP","year":2003.55,"value":9.6},{"series":"Real GDP","year":2003.8,"value":9.6},{"series":"Real GDP","year":2003.89,"value":9.0},{"series":"Real GDP","year":2003.96,"value":5.25},{"series":"Real GDP","year":2004.11,"value":5.15},{"series":"Real GDP","year":2004.26,"value":5.25},{"series":"Real GDP","year":2004.39,"value":5.05},{"series":"Real GDP","year":2004.49,"value":4.5},{"series":"Real GDP","year":2004.67,"value":4.3},{"series":"Real GDP","year":2004.86,"value":4.2},{"series":"Real GDP","year":2005.01,"value":4.7},{"series":"Real GDP","year":2005.14,"value":4.7},{"series":"Real GDP","year":2005.27,"value":4.3},{"series":"Real GDP","year":2005.42,"value":4.7},{"series":"Real GDP","year":2005.61,"value":4.6},{"series":"Real GDP","year":2005.8,"value":4.3},{"series":"Real GDP","year":2005.98,"value":4.4},{"series":"Real GDP","year":2006.17,"value":4.3},{"series":"Real GDP","year":2006.36,"value":4.05},{"series":"Real GDP","year":2006.45,"value":3.0},{"series":"Real GDP","year":2006.58,"value":2.9},{"series":"Real GDP","year":2006.73,"value":3.0},{"series":"Real GDP","year":2006.83,"value":3.0},{"series":"Real GDP","year":2006.92,"value":2.25},{"series":"Real GDP","year":2007.1,"value":2.7},{"series":"Real GDP","year":2007.29,"value":2.6},{"series":"Real GDP","year":2007.44,"value":2.8},{"series":"Real GDP","year":2007.57,"value":2.45},{"series":"Real GDP","year":2007.71,"value":2.05},{"series":"Real GDP","year":2007.86,"value":1.9},{"series":"Real GDP","year":2007.95,"value":1.05},{"series":"Real GDP","year":2008.08,"value":0.95},{"series":"Real GDP","year":2008.23,"value":0.5},{"series":"Real GDP","year":2008.38,"value":0.3},{"series":"Real GDP","year":2008.45,"value":-0.35},{"series":"Real GDP","year":2008.57,"value":-0.45},{"series":"Real GDP","year":2008.66,"value":-1.6},{"series":"Real GDP","year":2008.74,"value":-2.0},{"series":"Real GDP","year":2008.9,"value":-2.6},{"series":"Real GDP","year":2009.54,"value":-2.6},{"series":"Real GDP","year":2009.63,"value":-2.0},{"series":"Real GDP","year":2009.73,"value":-1.3},{"series":"Real GDP","year":2009.88,"value":-1.3},{"series":"Real GDP","year":2009.95,"value":0.5},{"series":"Real GDP","year":2010.1,"value":0.5},{"series":"Real GDP","year":2010.2,"value":2.45},{"series":"Real GDP","year":2010.29,"value":2.45},{"series":"Real GDP","year":2010.38,"value":3.1},{"series":"Real GDP","year":2010.48,"value":3.35},{"series":"Real GDP","year":2010.63,"value":3.55},{"series":"Real GDP","year":2010.76,"value":3.6},{"series":"Real GDP","year":2010.89,"value":3.65},{"series":"Real GDP","year":2011.0,"value":2.9},{"series":"Real GDP","year":2011.13,"value":2.8},{"series":"Real GDP","year":2011.26,"value":2.6},{"series":"Real GDP","year":2011.41,"value":2.45},{"series":"Real GDP","year":2011.56,"value":2.05},{"series":"Real GDP","year":2011.69,"value":2.05},{"series":"Real GDP","year":2011.82,"value":1.95},{"series":"Real GDP","year":2011.94,"value":3.2},{"series":"Real GDP","year":2012.07,"value":3.3},{"series":"Real GDP","year":2012.16,"value":2.6},{"series":"Real GDP","year":2012.25,"value":2.6},{"series":"Real GDP","year":2012.39,"value":3.0},{"series":"Real GDP","year":2012.53,"value":3.1},{"series":"Real GDP","year":2012.65,"value":2.6},{"series":"Real GDP","year":2012.72,"value":2.15},{"series":"Real GDP","year":2012.81,"value":2.15},{"series":"Real GDP","year":2012.95,"value":1.6},{"series":"Real GDP","year":2013.1,"value":1.7},{"series":"Real GDP","year":2013.28,"value":1.95},{"series":"Real GDP","year":2013.47,"value":1.95},{"series":"Real GDP","year":2013.66,"value":1.85}
    ],
    "trend": [
      {"series":"Real 10-year","year":1960,"value":3.45},{"series":"Real 10-year","year":1962,"value":2.7},{"series":"Real 10-year","year":1964,"value":2.2},{"series":"Real 10-year","year":1966,"value":1.9},{"series":"Real 10-year","year":1968,"value":1.75},{"series":"Real 10-year","year":1970,"value":1.78},{"series":"Real 10-year","year":1972,"value":1.9},{"series":"Real 10-year","year":1974,"value":2.15},{"series":"Real 10-year","year":1976,"value":2.6},{"series":"Real 10-year","year":1978,"value":3.0},{"series":"Real 10-year","year":1980,"value":3.45},{"series":"Real 10-year","year":1982,"value":4.0},{"series":"Real 10-year","year":1984,"value":4.4},{"series":"Real 10-year","year":1986,"value":4.75},{"series":"Real 10-year","year":1988,"value":4.95},{"series":"Real 10-year","year":1990,"value":5.05},{"series":"Real 10-year","year":1992,"value":5.05},{"series":"Real 10-year","year":1994,"value":4.95},{"series":"Real 10-year","year":1996,"value":4.7},{"series":"Real 10-year","year":1998,"value":4.25},{"series":"Real 10-year","year":2000,"value":3.9},{"series":"Real 10-year","year":2002,"value":3.45},{"series":"Real 10-year","year":2004,"value":2.8},{"series":"Real 10-year","year":2006,"value":2.25},{"series":"Real 10-year","year":2008,"value":1.75},{"series":"Real 10-year","year":2010,"value":1.35},{"series":"Real 10-year","year":2012,"value":1.15},{"series":"Real 10-year","year":2013.8,"value":1.35},
      {"series":"Real GDP","year":1960,"value":2.8},{"series":"Real GDP","year":1961.7,"value":3.75},{"series":"Real GDP","year":1963.6,"value":4.7},{"series":"Real GDP","year":1965.5,"value":5.05},{"series":"Real GDP","year":1967.7,"value":5.15},{"series":"Real GDP","year":1970.1,"value":4.9},{"series":"Real GDP","year":1972.75,"value":4.4},{"series":"Real GDP","year":1975.85,"value":3.65},{"series":"Real GDP","year":1979,"value":3.0},{"series":"Real GDP","year":1981.85,"value":2.65},{"series":"Real GDP","year":1984.65,"value":2.5},{"series":"Real GDP","year":1987.3,"value":2.6},{"series":"Real GDP","year":1990.65,"value":3.1},{"series":"Real GDP","year":1994.4,"value":3.55},{"series":"Real GDP","year":1997.4,"value":3.85},{"series":"Real GDP","year":2000,"value":3.85},{"series":"Real GDP","year":2002,"value":3.6},{"series":"Real GDP","year":2004.1,"value":3.2},{"series":"Real GDP","year":2006,"value":2.7},{"series":"Real GDP","year":2007.85,"value":2.15},{"series":"Real GDP","year":2010.7,"value":1.6},{"series":"Real GDP","year":2012,"value":1.5},{"series":"Real GDP","year":2013.85,"value":1.9}
    ]
  },
  "layer": [
    {
      "data": {"name": "main"},
      "mark": {"type": "line", "strokeWidth": 3, "clip": true},
      "encoding": {
        "x": {
          "field": "year", "type": "quantitative",
          "scale": {"domain": [1960, 2014], "nice": false, "zero": false},
          "axis": {"title": null, "labelExpr": "'j-' + substring(toString(datum.value), 2)", "labelOverlap": false}
        },
        "y": {
          "field": "value", "type": "quantitative",
          "scale": {"domain": [-2, 9], "nice": false},
          "axis": {"title": null, "labelOverlap": false}
        },
        "color": {
          "field": "series", "type": "nominal",
          "scale": {"domain": ["Real 10-year", "Real GDP"], "range": ["#FF0000", "#558ED5"]},
          "legend": {
            "orient": "none",
            "legendX": 451,
            "legendY": -15,
            "title": null,
            "symbolType": "stroke",
            "symbolStrokeWidth": 4,
            "symbolSize": 676,
            "symbolOffset": 45,
            "labelFont": "Liberation Sans",
            "labelFontSize": 17,
            "labelFontWeight": "bold",
            "labelColor": "#000000",
            "labelOffset": 1,
            "labelExpr": "datum.label + '\u00a0\u00a0\u00a0\u00a0\u00a0\u00a0\u00a0\u00a0\u00a0\u00a0\u00a0\u00a0\u00a0\u00a0\u00a0\u00a0\u00a0\u00a0\u00a0\u00a0\u00a0\u00a0\u00a0\u00a0\u200b'",
            "labelLimit": 400,
            "fillColor": "#ffffff",
            "strokeColor": "#404040",
            "padding": 0,
            "rowPadding": -2
          }
        }
      }
    },
    {
      "data": {"name": "trend"},
      "mark": {"type": "line", "strokeWidth": 6, "opacity": 0.3, "interpolate": "monotone", "clip": true},
      "encoding": {
        "x": {"field": "year", "type": "quantitative", "title": null},
        "y": {"field": "value", "type": "quantitative", "title": null},
        "color": {"field": "series", "type": "nominal", "legend": null}
      }
    },
    {
      "data": {"values": [{}]},
      "mark": {"type": "rule", "color": "#5FCF8C", "strokeWidth": 3, "strokeDash": [3, 4]},
      "encoding": {"y": {"datum": 0, "title": null}}
    },
    {
      "data": {"values": [{}]},
      "mark": {"type": "rule", "color": "#5FCF8C", "strokeWidth": 3, "strokeDash": [3, 4]},
      "encoding": {"x": {"datum": 2000.35, "title": null}, "y": {"datum": -2, "title": null}, "y2": {"datum": 5.5}}
    },
    {
      "data": {"values": [{}]},
      "mark": {"type": "text", "text": "Chevallier.biz", "font": "Liberation Serif", "fontStyle": "italic", "fontWeight": "bold", "fontSize": 33, "angle": -15, "color": "#0E2C6E"},
      "encoding": {"x": {"datum": 1991.8, "title": null}, "y": {"datum": 5.0, "title": null}}
    },
    {
      "data": {"values": [{}]},
      "mark": {"type": "rule", "color": "#0E2C6E", "strokeWidth": 3},
      "encoding": {"x": {"datum": 1986.8, "title": null}, "y": {"datum": 3.98, "title": null}, "x2": {"datum": 1994.4}, "y2": {"datum": 5.0}}
    },
    {
      "data": {"values": [{}]},
      "mark": {"type": "text", "text": "©", "font": "Liberation Sans", "fontSize": 20, "fontWeight": "bold", "color": "#000000"},
      "encoding": {"x": {"datum": 1985.94, "title": null}, "y": {"datum": 4.29, "title": null}}
    }
  ]
}
